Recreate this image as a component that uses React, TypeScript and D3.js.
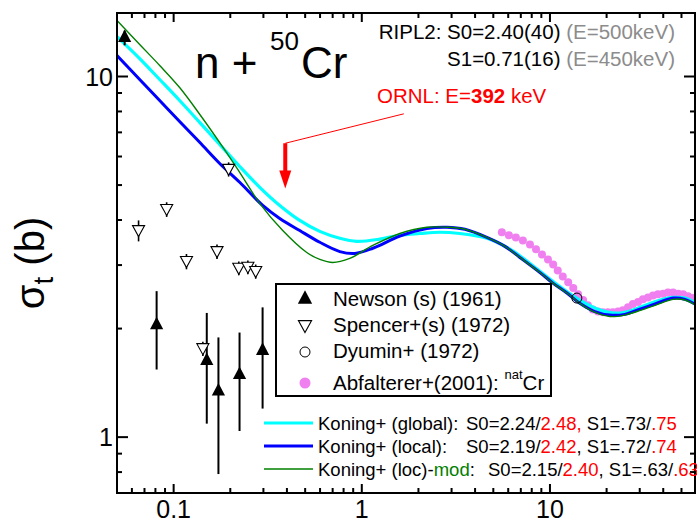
import React from "react";
import * as d3 from "d3";

// ---- data ----
const cyanE = [0.05, 0.066, 0.0843, 0.1076, 0.1375, 0.1757, 0.2244, 0.2867, 0.3664, 0.468, 0.598, 0.764, 0.941, 1.247, 1.593, 2.034, 2.6, 3.32, 4.62, 6.13, 7.83, 10.4, 14.4, 18.5, 21.4, 25.0, 30.1, 38.5, 45.1, 52.2, 60.5];
const cyanS = [12.9, 11.21, 9.81, 8.58, 7.46, 6.48, 5.63, 4.93, 4.39, 3.99, 3.72, 3.56, 3.49, 3.54, 3.63, 3.67, 3.7, 3.67, 3.56, 3.32, 3.03, 2.7, 2.4, 2.25, 2.21, 2.22, 2.29, 2.4, 2.44, 2.43, 2.34];

const blueE = [0.05, 0.066, 0.0843, 0.1076, 0.1375, 0.1757, 0.2244, 0.2974, 0.3664, 0.468, 0.598, 0.764, 0.918, 1.144, 1.593, 2.217, 2.83, 3.53, 4.62, 5.76, 6.92, 8.85, 10.4, 12.3, 14.4, 17.3, 20.8, 25.0, 29.0, 36.2, 45.1, 52.2, 60.5];
const blueS = [11.43, 9.81, 8.58, 7.5, 6.57, 5.74, 5.09, 4.39, 4.04, 3.74, 3.47, 3.27, 3.23, 3.34, 3.61, 3.79, 3.82, 3.77, 3.58, 3.38, 3.15, 2.86, 2.67, 2.51, 2.35, 2.23, 2.18, 2.19, 2.25, 2.34, 2.43, 2.41, 2.32];

const greenE = [0.05, 0.066, 0.0843, 0.1076, 0.1375, 0.1845, 0.2244, 0.2867, 0.38, 0.51, 0.598, 0.701, 0.863, 1.144, 1.593, 2.217, 2.83, 3.53, 4.62, 5.76, 6.92, 8.85, 10.4, 12.3, 14.4, 17.3, 20.8, 25.0, 29.0, 36.2, 45.1, 52.2, 60.5];
const greenS = [14.3, 12.27, 10.73, 9.32, 7.86, 6.32, 5.42, 4.45, 3.74, 3.25, 3.11, 3.05, 3.13, 3.4, 3.67, 3.82, 3.82, 3.77, 3.58, 3.38, 3.15, 2.86, 2.67, 2.51, 2.35, 2.22, 2.16, 2.18, 2.23, 2.32, 2.41, 2.4, 2.31];

const newsonE = [0.0549, 0.0812, 0.15, 0.173, 0.224, 0.297];
const newsonS = [12.9, 2.06, 1.64, 1.35, 1.5, 1.75];
const newsonLo = [12.2, 1.54, 1.09, 0.79, 1.04, 1.2];
const newsonHi = [13.4, 2.54, 2.21, 1.89, 1.95, 2.29];

const spencerE = [0.0651, 0.0918, 0.117, 0.143, 0.17, 0.196, 0.222, 0.248, 0.273];
const spencerS = [3.74, 4.28, 3.07, 1.76, 3.27, 5.53, 2.94, 2.96, 2.88];
const spencerErr = [0.25, 0.2, 0.15, 0.08, 0.15, 0.25, 0.13, 0.13, 0.13];

const dyuminE = [13.9];
const dyuminS = [2.43];

const abfE = [5.55, 6.05, 6.59, 7.18, 7.83, 8.43, 9.07, 9.76, 10.4, 11.0, 11.7, 12.5, 13.3, 14.1, 15.0, 15.9, 16.9, 18.0, 19.1, 20.3, 21.6, 23.0, 24.4, 26.0, 27.6, 29.4, 31.2, 33.2, 35.3, 37.5, 39.9, 42.4, 45.1, 48.0, 51.0, 54.2, 57.6];
const abfS = [3.7, 3.63, 3.58, 3.51, 3.42, 3.32, 3.21, 3.11, 3.01, 2.9, 2.79, 2.69, 2.59, 2.49, 2.4, 2.32, 2.26, 2.23, 2.22, 2.22, 2.22, 2.23, 2.25, 2.29, 2.34, 2.37, 2.41, 2.44, 2.47, 2.49, 2.5, 2.52, 2.52, 2.5, 2.49, 2.46, 2.43];

const ornlE = 0.392;
const xTickLabels = ["0.1", "1", "10"];
const yTickLabels = ["1", "10"];

const FONT = "'Liberation Sans', Arial, Helvetica, sans-serif";

export default function App() {
  const W = 697, H = 525;
  const L = 117, R = 695, T = 13, B = 493;
  const x = d3.scaleLog().domain([0.05, 59]).range([L, R]);
  const y = d3.scaleLog().domain([0.7, 15]).range([B, T]);

  const line = d3
    .line<[number, number]>()
    .x((d) => x(d[0]))
    .y((d) => y(d[1]))
    .curve(d3.curveCatmullRom.alpha(0.5));
  const zip = (a: number[], b: number[]) => a.map((v, i) => [v, b[i]] as [number, number]);

  const xt = x.ticks();
  const yt = y.ticks();
  const isMajor = (v: number) => Math.abs(Math.log10(v) - Math.round(Math.log10(v))) < 1e-6;

  const triUp = (cx: number, cy: number, s: number) =>
    `M${cx},${cy - s * 0.6} L${cx + s * 0.55},${cy + s * 0.45} L${cx - s * 0.55},${cy + s * 0.45} Z`;
  const triDown = (cx: number, cy: number, s: number) =>
    `M${cx},${cy + s * 0.55} L${cx + s * 0.55},${cy - s * 0.45} L${cx - s * 0.55},${cy - s * 0.45} Z`;

  const ax = x(ornlE);
  const arrowTop = y(6.53);
  const arrowBaseY = y(5.49);
  const arrowTip = y(4.89);

  return (
    <div style={{ position: "fixed", left: 0, top: 0 }}>
      <svg width={W} height={H} style={{ display: "block", fontFamily: FONT }}>
        <defs>
          <clipPath id="plotclip">
            <rect x={L} y={T} width={R - L} height={B - T} />
          </clipPath>
        </defs>
        <rect x={0} y={0} width={W} height={H} fill="white" />

        <g clipPath="url(#plotclip)">
          {abfE.map((e, i) => (
            <circle key={"a" + i} cx={x(e)} cy={y(abfS[i])} r={4} fill="#f07ff0" />
          ))}
          <path d={line(zip(cyanE, cyanS)) || ""} fill="none" stroke="#00ffff" strokeWidth={3.2} />
          <path d={line(zip(blueE, blueS)) || ""} fill="none" stroke="#0000ff" strokeWidth={3} />
          <path d={line(zip(greenE, greenS)) || ""} fill="none" stroke="#008000" strokeWidth={1.4} />

          {/* Newson */}
          {newsonE.map((e, i) => (
            <g key={"n" + i}>
              <line x1={x(e)} x2={x(e)} y1={y(newsonLo[i])} y2={y(newsonHi[i])} stroke="black" strokeWidth={2} />
              <path d={triUp(x(e), y(newsonS[i]), 12)} fill="black" />
            </g>
          ))}
          {/* Spencer */}
          {spencerE.map((e, i) => (
            <g key={"s" + i}>
              <line x1={x(e)} x2={x(e)} y1={y(spencerS[i] - spencerErr[i])} y2={y(spencerS[i] + spencerErr[i])} stroke="black" strokeWidth={1.6} />
              <path d={triDown(x(e), y(spencerS[i]), 11)} fill="white" stroke="black" strokeWidth={1.1} />
            </g>
          ))}
          {/* Dyumin */}
          {dyuminE.map((e, i) => (
            <circle key={"d" + i} cx={x(e)} cy={y(dyuminS[i])} r={5} fill="none" stroke="black" strokeWidth={1} />
          ))}
        </g>

        {/* frame */}
        <rect x={L} y={T} width={R - L} height={B - T} fill="none" stroke="black" strokeWidth={2} />
        {xt.map((v, i) => {
          const len = isMajor(v) ? 9 : 5;
          return (
            <g key={"xt" + i}>
              <line x1={x(v)} x2={x(v)} y1={B} y2={B - len} stroke="black" strokeWidth={2} />
              <line x1={x(v)} x2={x(v)} y1={T} y2={T + len} stroke="black" strokeWidth={2} />
            </g>
          );
        })}
        {yt.map((v, i) => {
          const len = isMajor(v) ? 11 : 5;
          return (
            <g key={"yt" + i}>
              <line x1={L} x2={L + len} y1={y(v)} y2={y(v)} stroke="black" strokeWidth={2} />
              <line x1={R} x2={R - len} y1={y(v)} y2={y(v)} stroke="black" strokeWidth={2} />
            </g>
          );
        })}
        {xTickLabels.map((t) => (
          <text key={"xl" + t} x={x(+t)} y={518} textAnchor="middle" fontSize={25}>
            {t}
          </text>
        ))}
        {yTickLabels.map((t) => (
          <text key={"yl" + t} x={113} y={y(+t) + 9} textAnchor="end" fontSize={25}>
            {t}
          </text>
        ))}

        {/* y label */}
        <text transform="translate(44,263) rotate(-90)" textAnchor="middle" fontSize={40}>
          σ<tspan dy={9} fontSize={28}>t</tspan>
          <tspan dy={-9}> (b)</tspan>
        </text>

        {/* title */}
        <text x={195} y={78} fontSize={44}>n +</text>
        <text x={270} y={50} fontSize={26}>50</text>
        <text x={301} y={78} fontSize={44}>Cr</text>

        {/* RIPL2 */}
        <text x={675} y={39} textAnchor="end" fontSize={20.5}>
          RIPL2: S0=2.40(40) <tspan fill="#8c8c8c">(E=500keV)</tspan>
        </text>
        <text x={675} y={66} textAnchor="end" fontSize={20.5}>
          S1=0.71(16) <tspan fill="#8c8c8c">(E=450keV)</tspan>
        </text>

        {/* ORNL annotation */}
        <text x={377} y={103} fontSize={20.5} fill="#ff0000">
          ORNL: E=<tspan fontWeight="bold">392</tspan> keV
        </text>
        <line x1={ax} y1={arrowTop} x2={x(1.672)} y2={y(7.88)} stroke="#ff0000" strokeWidth={1} />
        <line x1={ax} y1={arrowTop} x2={ax} y2={arrowBaseY + 1} stroke="#ff0000" strokeWidth={4} />
        <path d={`M${ax - 6},${arrowBaseY} L${ax + 6},${arrowBaseY} L${ax},${arrowTip} Z`} fill="#ff0000" />

        {/* legend box */}
        <rect x={276} y={284} width={275} height={112} fill="white" stroke="black" strokeWidth={2} />
        <path d={triUp(305, 298, 13)} fill="black" />
        <text x={333} y={306} fontSize={20.5}>Newson (s) (1961)</text>
        <path d={triDown(305, 326, 12)} fill="white" stroke="black" strokeWidth={1.1} />
        <text x={333} y={332} fontSize={20.5}>Spencer+(s) (1972)</text>
        <circle cx={305} cy={352} r={5} fill="none" stroke="black" strokeWidth={1} />
        <text x={333} y={358} fontSize={20.5}>Dyumin+ (1972)</text>
        <circle cx={305} cy={383} r={5.5} fill="#f07ff0" />
        <text x={333} y={390} fontSize={20.5}>
          Abfalterer+(2001): <tspan fontSize={13} dy={-11}>nat</tspan>
          <tspan dy={11}>Cr</tspan>
        </text>

        {/* Koning legend */}
        <line x1={264} x2={313} y1={423} y2={423} stroke="#00ffff" strokeWidth={3} />
        <line x1={264} x2={313} y1={446} y2={446} stroke="#0000ff" strokeWidth={3} />
        <line x1={264} x2={313} y1={469} y2={469} stroke="#008000" strokeWidth={1.4} />
        <text x={318} y={430} fontSize={18.5}>
          Koning+ (global):
          <tspan x={466}>S0=2.24/</tspan>
          <tspan fill="#ff0000">2.48,</tspan>
          <tspan> S1=.73/</tspan>
          <tspan fill="#ff0000">.75</tspan>
        </text>
        <text x={318} y={453} fontSize={18.5}>
          Koning+ (local):
          <tspan x={466}>S0=2.19/</tspan>
          <tspan fill="#ff0000">2.42</tspan>
          <tspan>, S1=.72/</tspan>
          <tspan fill="#ff0000">.74</tspan>
        </text>
        <text x={318} y={476} fontSize={18.5}>
          Koning+ (loc)-<tspan fill="#008000">mod</tspan>:
          <tspan x={488}>S0=2.15/</tspan>
          <tspan fill="#ff0000">2.40</tspan>
          <tspan>, S1=.63/</tspan>
          <tspan fill="#ff0000">.63</tspan>
        </text>
      </svg>
    </div>
  );
}
